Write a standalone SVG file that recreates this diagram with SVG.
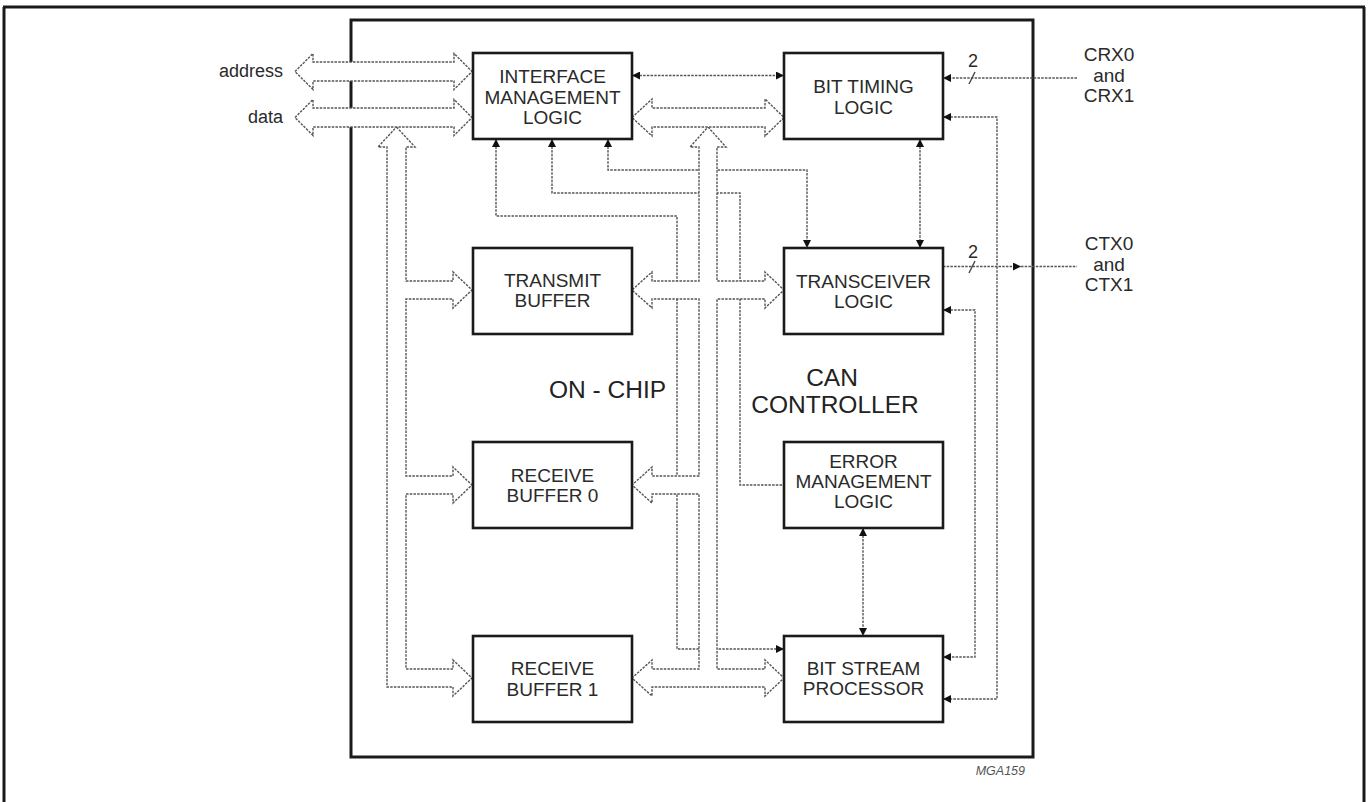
<svg xmlns="http://www.w3.org/2000/svg" width="1368" height="802" viewBox="0 0 1368 802">
<style>
.frame{fill:none;stroke:#1a1a1a;stroke-width:3}
.box{fill:#fff;stroke:#1a1a1a;stroke-width:2.6}
.bus{fill:#fff;stroke:#555;stroke-width:1.4;stroke-dasharray:2.5 1.2}
.sig{fill:none;stroke:#555;stroke-width:1.4;stroke-dasharray:2.5 1.2}
.solid{fill:none;stroke:#444;stroke-width:1.4}
.t{font-family:"Liberation Sans",Arial,sans-serif;font-size:19px;fill:#2a2a2a;text-anchor:middle}
.lbl{font-family:"Liberation Sans",Arial,sans-serif;font-size:18px;fill:#2a2a2a}
.big{font-family:"Liberation Sans",Arial,sans-serif;font-size:24.5px;fill:#222;text-anchor:middle}
</style>
<defs>
<marker id="ah" viewBox="0 0 8 8" refX="8" refY="4" markerWidth="8" markerHeight="8" markerUnits="userSpaceOnUse" orient="auto-start-reverse">
<path d="M0,0 L8,4 L0,8 Z" fill="#111" stroke="none"/>
</marker>
</defs>
<rect width="1368" height="802" fill="#fff"/>
<g id="page-frame">
<line class="frame" x1="3" y1="7" x2="1365" y2="7"/>
<line class="frame" x1="4" y1="7" x2="4" y2="802"/>
<line class="frame" x1="1364" y1="7" x2="1364" y2="802"/>
</g>
<g id="chip">
<rect class="frame" x="351" y="20" width="682" height="737"/>
</g>
<g id="connectors">
<!-- thin signal lines -->
<path class="sig" d="M496,139 L496,216 L677,216 L677,649 L784,649" marker-start="url(#ah)" marker-end="url(#ah)"/>
<path class="sig" d="M552,139 L552,193 L740,193 L740,485 L784,485" marker-start="url(#ah)"/>
<path class="sig" d="M608,139 L608,170 L807,170 L807,248" marker-start="url(#ah)" marker-end="url(#ah)"/>
<path class="sig" d="M632,75.5 L784,75.5" marker-start="url(#ah)" marker-end="url(#ah)"/>
<path class="sig" d="M920,139 L920,248" marker-start="url(#ah)" marker-end="url(#ah)"/>
<path class="sig" d="M863,528 L863,636" marker-start="url(#ah)" marker-end="url(#ah)"/>
<path class="sig" d="M943,117 L997,117 L997,699 L943,699" marker-start="url(#ah)" marker-end="url(#ah)"/>
<path class="sig" d="M943,310 L975,310 L975,657 L943,657" marker-start="url(#ah)" marker-end="url(#ah)"/>
<path class="sig" d="M1077,78 L943,78" marker-end="url(#ah)"/>
<path class="sig" d="M943,266.5 L1021,266.5" marker-end="url(#ah)"/>
<path class="sig" d="M1021,266.5 L1077,266.5"/>
<line class="solid" x1="969" y1="84" x2="975" y2="72"/>
<line class="solid" x1="969" y1="273" x2="975" y2="261"/>
<!-- wide bus arrows -->
<path class="bus" d="M295,71.5 L313,53.5 L313,62 L454,62 L454,53.5 L472,71.5 L454,89.5 L454,81 L313,81 L313,89.5 Z"/>
<path class="bus" d="M396.5,127 L415,147 L406,147 L406,281 L453,281 L453,272 L472,290 L453,308 L453,299 L406,299 L406,476 L453,476 L453,467 L472,485 L453,503 L453,494 L406,494 L406,669 L453,669 L453,660 L472,678 L453,696 L453,687 L387,687 L387,147 L378,147 Z"/>
<path class="bus" d="M295,117.5 L313,99.5 L313,108 L454,108 L454,99.5 L472,117.5 L454,135.5 L454,127 L313,127 L313,135.5 Z"/>
<path class="bus" d="M708,127 L726,147 L717,147 L717,281 L765,281 L765,272 L784,290 L765,308 L765,299 L717,299 L717,669 L765,669 L765,660 L784,678 L765,696 L765,687 L652,687 L652,696 L632,678 L652,660 L652,669 L699,669 L699,494 L652,494 L652,503 L632,485 L652,467 L652,476 L699,476 L699,299 L652,299 L652,308 L632,290 L652,272 L652,281 L699,281 L699,147 L690,147 Z"/>
<path class="bus" d="M632,117.5 L652,99 L652,108 L765,108 L765,99 L784,117.5 L765,136 L765,127 L652,127 L652,136 Z"/>
</g>
<g id="iml">
<rect class="box" x="473" y="53" width="159" height="86"/>
<text class="t" x="552.5" y="83">INTERFACE</text>
<text class="t" x="552.5" y="104">MANAGEMENT</text>
<text class="t" x="552.5" y="124">LOGIC</text>
</g>
<g id="btl">
<rect class="box" x="784" y="53" width="159" height="86"/>
<text class="t" x="863.5" y="93">BIT TIMING</text>
<text class="t" x="863.5" y="114">LOGIC</text>
</g>
<g id="tb">
<rect class="box" x="473" y="248" width="159" height="86"/>
<text class="t" x="552.5" y="287">TRANSMIT</text>
<text class="t" x="552.5" y="307">BUFFER</text>
</g>
<g id="tl">
<rect class="box" x="784" y="248" width="159" height="86"/>
<text class="t" x="863.5" y="288">TRANSCEIVER</text>
<text class="t" x="863.5" y="308">LOGIC</text>
</g>
<g id="rb0">
<rect class="box" x="473" y="442" width="159" height="86"/>
<text class="t" x="552.5" y="482">RECEIVE</text>
<text class="t" x="552.5" y="502">BUFFER 0</text>
</g>
<g id="eml">
<rect class="box" x="784" y="442" width="159" height="86"/>
<text class="t" x="863.5" y="468">ERROR</text>
<text class="t" x="863.5" y="488">MANAGEMENT</text>
<text class="t" x="863.5" y="508">LOGIC</text>
</g>
<g id="rb1">
<rect class="box" x="473" y="636" width="159" height="86"/>
<text class="t" x="552.5" y="675">RECEIVE</text>
<text class="t" x="552.5" y="696">BUFFER 1</text>
</g>
<g id="bsp">
<rect class="box" x="784" y="636" width="159" height="86"/>
<text class="t" x="863.5" y="675">BIT STREAM</text>
<text class="t" x="863.5" y="695">PROCESSOR</text>
</g>
<g id="labels">
<text class="lbl" x="283" y="77" text-anchor="end">address</text>
<text class="lbl" x="283" y="123" text-anchor="end">data</text>
<text class="lbl" x="973" y="67" text-anchor="middle">2</text>
<text class="lbl" x="973" y="258" text-anchor="middle">2</text>
<text class="t" x="1109" y="61">CRX0</text>
<text class="t" x="1109" y="82">and</text>
<text class="t" x="1109" y="102">CRX1</text>
<text class="t" x="1109" y="250">CTX0</text>
<text class="t" x="1109" y="271">and</text>
<text class="t" x="1109" y="291">CTX1</text>
<text class="big" x="607.5" y="398">ON - CHIP</text>
<text class="big" x="832" y="386">CAN</text>
<text class="big" x="835" y="413">CONTROLLER</text>
<text x="1025" y="775" text-anchor="end" font-family="Liberation Sans, Arial, sans-serif" font-size="12.5" font-style="italic" fill="#555">MGA159</text>
</g>
</svg>
